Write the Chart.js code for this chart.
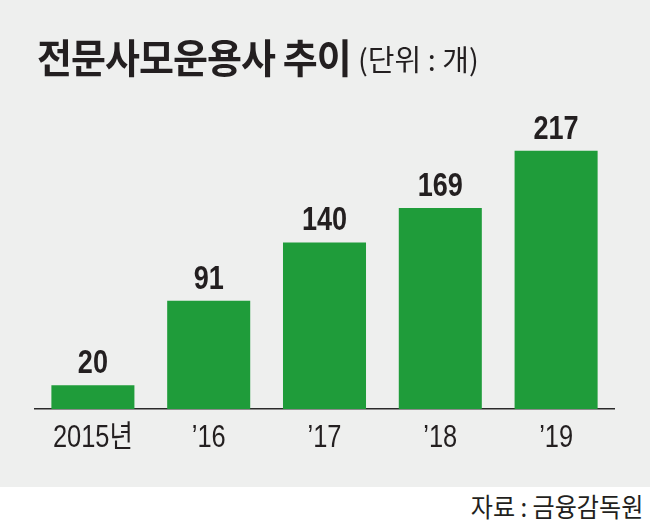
<!DOCTYPE html>
<html>
<head>
<meta charset="utf-8">
<script src="https://cdn.jsdelivr.net/npm/chart.js@4.4.0/dist/chart.umd.min.js"></script>
<style>
  html, body { margin: 0; padding: 0; background: #ffffff; }
  #wrap { position: relative; width: 650px; height: 521px; overflow: hidden; background: #ffffff; }
  #panel { position: absolute; left: 0; top: 0; width: 650px; height: 487px; background: #eeefee; }
  #chartBox { position: absolute; left: 0; top: 0; width: 650px; height: 487px; }
  .txt { position: absolute; white-space: nowrap; color: #231f20; line-height: 1;
         font-family: 'Noto Sans CJK KR', sans-serif; }
  #title { left: 37px; top: 36px; font-weight: 700; font-size: 40px; letter-spacing: -1px;
           transform: scaleX(0.95); transform-origin: left top; }
  #unit { left: 358px; top: 44px; font-weight: 400; font-size: 29px; }
  #source { right: 7px; top: 493px; font-size: 26px;
            transform: scaleX(0.926); transform-origin: right top; }
</style>
</head>
<body>
<div id="wrap">
  <div id="panel"></div>
  <div id="chartBox"><canvas id="c"></canvas></div>
  <div id="title" class="txt">전문사모운용사 추이</div>
  <div id="unit" class="txt">(단위 : 개)</div>
  <div id="source" class="txt">자료 : 금융감독원</div>
</div>
<script>
const categories = ['2015년', '’16', '’17', '’18', '’19'];
const values = [20, 91, 140, 169, 217];
const barColor = '#1f9c3a';
const textColor = '#231f20';
const narrow = 0.82;

const textMarks = {
  id: 'textMarks',
  afterDatasetsDraw(chart) {
    const ctx = chart.ctx;
    const meta = chart.getDatasetMeta(0);
    const xs = chart.scales.x;
    ctx.save();
    ctx.fillStyle = textColor;
    ctx.textAlign = 'center';
    ctx.textBaseline = 'alphabetic';
    // value labels
    ctx.font = "bold 33px 'Liberation Sans', Arial, sans-serif";
    meta.data.forEach((bar, i) => {
      ctx.save();
      ctx.translate(bar.x, bar.y - 12);
      ctx.scale(narrow, 1);
      ctx.fillText(String(values[i]), 0, 0);
      ctx.restore();
    });
    // category tick labels
    ctx.font = "31px 'Liberation Sans', 'Noto Sans CJK KR', sans-serif";
    categories.forEach((lab, i) => {
      ctx.save();
      ctx.translate(xs.getPixelForTick(i), chart.chartArea.bottom + 38);
      ctx.scale(narrow, 1);
      ctx.fillText(lab, 0, 0);
      ctx.restore();
    });
    ctx.restore();
  }
};

new Chart(document.getElementById('c'), {
  type: 'bar',
  data: {
    labels: categories,
    datasets: [{
      data: values,
      backgroundColor: barColor,
      borderWidth: 0,
      barPercentage: 0.717,
      categoryPercentage: 1.0
    }]
  },
  options: {
    responsive: true,
    maintainAspectRatio: false,
    animation: false,
    layout: { padding: { left: 35, right: 36, top: 111.5, bottom: 0 } },
    plugins: { legend: { display: false }, tooltip: { enabled: false } },
    scales: {
      x: {
        grid: { display: false, drawTicks: false },
        border: { display: true, color: '#2a2a2a', width: 1.5 },
        ticks: { display: false },
        afterFit(scale) { scale.height = 78; }
      },
      y: {
        display: false,
        min: 0,
        max: 250
      }
    }
  },
  plugins: [textMarks]
});
</script>
</body>
</html>
